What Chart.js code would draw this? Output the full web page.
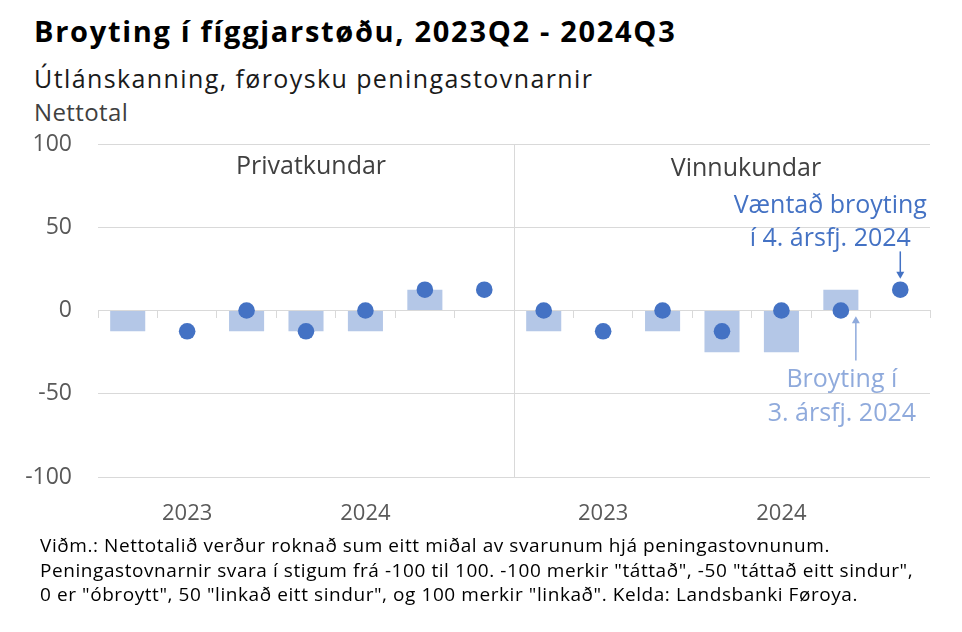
<!DOCTYPE html>
<html>
<head>
<meta charset="utf-8">
<script src="https://cdn.jsdelivr.net/npm/chart.js@4"></script>
<style>
  html, body { margin: 0; padding: 0; background: #fff; }
  body { width: 962px; height: 632px; position: relative; overflow: hidden; font-family: "Open Sans", "Noto Sans", sans-serif; }
  canvas { position: absolute; left: 0; top: 0; }
  .txt { position: absolute; white-space: nowrap; line-height: 1; }
  #title { left: 34px; top: 16px; font-size: 29px; font-weight: 700; letter-spacing: 1.7px; color: #000; }
  #subtitle { left: 34px; top: 66px; font-size: 25px; letter-spacing: 1.4px; color: #1a1a1a; }
  #unit { left: 34px; top: 100px; font-size: 24px; letter-spacing: 0.4px; color: #404040; }
  #note { left: 40px; top: 533px; font-size: 19px; line-height: 24.5px; letter-spacing: 0.57px; color: #000; }
</style>
</head>
<body>
<div class="txt" id="title">Broyting í fíggjarstøðu, 2023Q2 - 2024Q3</div>
<div class="txt" id="subtitle">Útlánskanning, føroysku peningastovnarnir</div>
<div class="txt" id="unit">Nettotal</div>
<canvas id="chart" width="962" height="632"></canvas>
<div class="txt" id="note">Viðm.: Nettotalið verður roknað sum eitt miðal av svarunum hjá peningastovnunum.<br>Peningastovnarnir svara í stigum frá -100 til 100. -100 merkir "táttað", -50 "táttað eitt sindur",<br>0 er "óbroytt", 50 "linkað eitt sindur", og 100 merkir "linkað". Kelda: Landsbanki Føroya.</div>
<script>
/* Two panels (private / business customers), 7 quarters each. */
const quarters = [
  '2023Q2', '2023Q3', '2023Q4', '2024Q1', '2024Q2', '2024Q3', '2024Q4',
  '2023Q2', '2023Q3', '2023Q4', '2024Q1', '2024Q2', '2024Q3', '2024Q4',
];
const yearTicks = ['', '2023', '', '', '2024', '', '', '', '2023', '', '', '2024', '', ''];
const panelNames = ['Privatkundar', 'Vinnukundar'];

/* Actual change (bars) and expected change (dots), net balance. */
const broyting = [-12.5, 0, -12.5, -12.5, -12.5, 12.5, null, -12.5, 0, -12.5, -25, -25, 12.5, null];
const vaentad = [null, -12.5, 0, -12.5, 0, 12.5, 12.5, 0, -12.5, 0, -12.5, 0, 0, 12.5];

const yTicks = [-100, -50, 0, 50, 100];

const DARK = '#4472c4';
const LIGHT = '#b4c7e7';
const LIGHT_TXT = '#8faadc';
const GRID = '#d9d9d9';
const FONT = '"Open Sans", "Noto Sans", sans-serif';

function arrow(ctx, x, y0, y1, color) {
  const dir = y1 > y0 ? 1 : -1;
  ctx.strokeStyle = color;
  ctx.fillStyle = color;
  ctx.lineWidth = 1.5;
  ctx.beginPath();
  ctx.moveTo(x, y0);
  ctx.lineTo(x, y1 - dir * 6);
  ctx.stroke();
  ctx.beginPath();
  ctx.moveTo(x - 4, y1 - dir * 7);
  ctx.lineTo(x + 4, y1 - dir * 7);
  ctx.lineTo(x, y1);
  ctx.closePath();
  ctx.fill();
}

const annotate = {
  id: 'annotate',
  afterDatasetsDraw(chart) {
    const { ctx, chartArea: a, scales: { x, y } } = chart;
    const sep = Math.round((x.getPixelForValue(6) + x.getPixelForValue(7)) / 2) + 0.5;
    ctx.save();
    ctx.strokeStyle = GRID;
    ctx.lineWidth = 1;
    ctx.beginPath();
    ctx.moveTo(sep, a.top);
    ctx.lineTo(sep, a.bottom);
    ctx.stroke();

    ctx.font = '25px ' + FONT;
    ctx.fillStyle = '#404040';
    ctx.textAlign = 'center';
    ctx.textBaseline = 'alphabetic';
    ctx.fillText(panelNames[0], x.getPixelForValue(3) + 5, y.getPixelForValue(82));
    ctx.fillText(panelNames[1], x.getPixelForValue(10) + 24, y.getPixelForValue(81));

    // expected change, last quarter
    const xe = x.getPixelForValue(13);
    ctx.fillStyle = DARK;
    ctx.fillText('Væntað broyting', xe - 70, y.getPixelForValue(58.8));
    ctx.fillText('í 4. ársfj. 2024', xe - 70, y.getPixelForValue(38.8));
    arrow(ctx, xe, y.getPixelForValue(35.5), y.getPixelForValue(19), DARK);

    // actual change, 2024Q3
    const xa = x.getPixelForValue(12);
    ctx.fillStyle = LIGHT_TXT;
    ctx.fillText('Broyting í', xa + 1, y.getPixelForValue(-46));
    ctx.fillText('3. ársfj. 2024', xa + 1, y.getPixelForValue(-66.3));
    arrow(ctx, xa + 15, y.getPixelForValue(-30), y.getPixelForValue(-3.5), LIGHT_TXT);
    ctx.restore();
  }
};

new Chart(document.getElementById('chart'), {
  type: 'bar',
  data: {
    labels: quarters,
    datasets: [
      {
        type: 'line',
        label: 'Væntað broyting',
        data: vaentad,
        showLine: false,
        pointRadius: 8.3,
        pointHoverRadius: 8.3,
        pointBackgroundColor: DARK,
        pointBorderWidth: 0,
        borderColor: DARK,
        order: 0,
      },
      {
        label: 'Broyting',
        data: broyting,
        backgroundColor: LIGHT,
        barPercentage: 0.59,
        categoryPercentage: 1,
        order: 1,
      },
    ],
  },
  options: {
    responsive: false,
    animation: false,
    layout: { padding: { left: 0, right: 32, top: 144, bottom: 105 } },
    plugins: { legend: { display: false }, tooltip: { enabled: false } },
    scales: {
      x: {
        offset: true,
        grid: { display: false, drawTicks: false },
        border: { display: false },
        ticks: {
          autoSkip: false,
          maxRotation: 0,
          padding: 24,
          color: '#595959',
          font: { family: FONT, size: 22 },
          callback: (v, i) => yearTicks[i],
        },
        afterFit: (s) => { s.height = 50; },
      },
      zero: {
        type: 'category',
        axis: 'x',
        position: { y: 0 },
        offset: true,
        grid: { display: true, drawOnChartArea: false, drawTicks: true, tickLength: 7, color: GRID, offset: true },
        border: { display: true, color: GRID },
        ticks: { display: false },
      },
      y: {
        min: -100,
        max: 100,
        afterBuildTicks: (s) => { s.ticks = yTicks.map((v) => ({ value: v })); },
        grid: { color: GRID, drawTicks: false },
        border: { display: false },
        ticks: {
          padding: 26,
          color: '#595959',
          font: { family: FONT, size: 23 },
        },
        afterFit: (s) => { s.width = 98; },
      },
    },
  },
  plugins: [annotate],
});
</script>
</body>
</html>
